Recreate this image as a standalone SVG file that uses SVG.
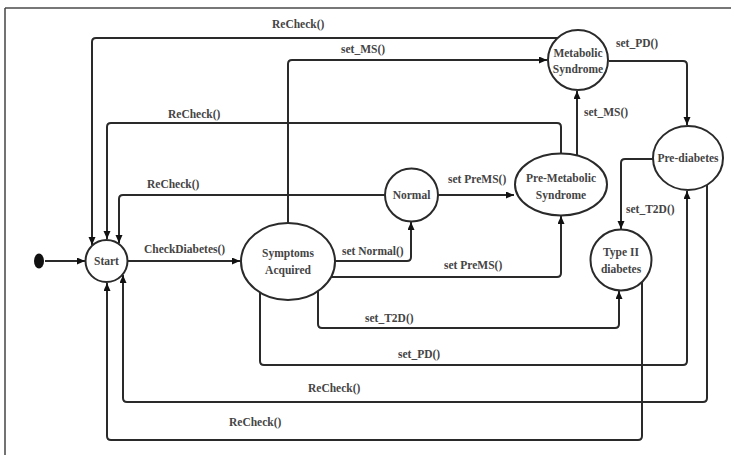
<svg xmlns="http://www.w3.org/2000/svg" width="731" height="455" viewBox="0 0 731 455">
<style>
.node{fill:#fff;stroke:#2a2a2a;stroke-width:2}
.nt{font-family:"Liberation Serif","Times New Roman",serif;font-weight:bold;font-size:11.5px;fill:#444;text-anchor:middle}
.lt{font-family:"Liberation Serif","Times New Roman",serif;font-weight:bold;font-size:11.5px;fill:#444}
.c{fill:none;stroke:#2a2a2a;stroke-width:2;stroke-linejoin:round}
.a{marker-end:url(#ah)}
</style>
<defs>
<marker id="ah" markerUnits="userSpaceOnUse" markerWidth="9" markerHeight="8" refX="8" refY="3.5" orient="auto">
<path d="M0,0 L8,3.5 L0,7 z" fill="#111"/>
</marker>
</defs>
<rect width="731" height="455" fill="#fff"/>
<g id="frame">
<line x1="5" y1="8" x2="731" y2="8" stroke="#777" stroke-width="2"/>
<line x1="5" y1="8" x2="5" y2="455" stroke="#444" stroke-width="1.5"/>
</g>
<g id="connectors">
<line class="c a" x1="45" y1="261" x2="85" y2="261"/>
<line class="c a" x1="128" y1="261" x2="240" y2="261"/>
<path class="c a" d="M558,38 H96 Q92,38 92,42 V245"/>
<path class="c a" d="M288,223 V64 Q288,60 292,60 H547"/>
<path class="c a" d="M561,153 V127 Q561,123 557,123 H111 Q107,123 107,127 V239"/>
<path class="c a" d="M385,195 H123 Q119,195 119,199 V243"/>
<path class="c a" d="M335,261 H407 Q411,261 411,257 V222"/>
<path class="c a" d="M438,195 H514"/>
<path class="c a" d="M331,277 H557 Q561,277 561,273 V216"/>
<path class="c a" d="M577,155 V91"/>
<path class="c a" d="M609,61 H683 Q687,61 687,65 V125"/>
<path class="c a" d="M653,159 H625 Q621,159 621,163 V229"/>
<path class="c a" d="M318,291 V324 Q318,328 322,328 H615 Q619,328 619,324 V291"/>
<path class="c a" d="M260,292 V361 Q260,365 264,365 H683 Q687,365 687,361 V191"/>
<path class="c a" d="M707,185 V398 Q707,402 703,402 H127 Q123,402 123,398 V275"/>
<path class="c a" d="M642,282 V436 Q642,440 638,440 H111 Q107,440 107,436 V283"/>
</g>
<g id="labels">
<text class="lt" x="272" y="28">ReCheck()</text>
<text class="lt" x="341" y="53">set_MS()</text>
<text class="lt" x="168" y="118">ReCheck()</text>
<text class="lt" x="147" y="188">ReCheck()</text>
<text class="lt" x="144" y="253">CheckDiabetes()</text>
<text class="lt" x="342" y="255">set Normal()</text>
<text class="lt" x="448" y="183">set PreMS()</text>
<text class="lt" x="444" y="269">set PreMS()</text>
<text class="lt" x="584" y="116">set_MS()</text>
<text class="lt" x="616" y="47">set_PD()</text>
<text class="lt" x="626" y="213">set_T2D()</text>
<text class="lt" x="365" y="322">set_T2D()</text>
<text class="lt" x="398" y="358">set_PD()</text>
<text class="lt" x="308" y="392">ReCheck()</text>
<text class="lt" x="229" y="426">ReCheck()</text>
</g>
<g id="initial"><ellipse cx="39" cy="261" rx="5" ry="7.5" fill="#111"/></g>
<g id="start"><circle class="node" cx="106.5" cy="261" r="21"/><text class="nt" x="106.5" y="265">Start</text></g>
<g id="symptoms"><ellipse class="node" cx="288" cy="261.5" rx="47" ry="38.5"/><text class="nt" x="288" y="257">Symptoms</text><text class="nt" x="288" y="274">Acquired</text></g>
<g id="normal"><circle class="node" cx="411.5" cy="195" r="26.5"/><text class="nt" x="411.5" y="199">Normal</text></g>
<g id="premetabolic"><ellipse class="node" cx="561" cy="184.5" rx="46" ry="31"/><text class="nt" x="561" y="182">Pre-Metabolic</text><text class="nt" x="561" y="199">Syndrome</text></g>
<g id="metabolic"><circle class="node" cx="578" cy="60" r="30"/><text class="nt" x="578" y="57">Metabolic</text><text class="nt" x="578" y="73">Syndrome</text></g>
<g id="prediabetes"><ellipse class="node" cx="688" cy="158" rx="35" ry="32"/><text class="nt" x="688" y="162">Pre-diabetes</text></g>
<g id="type2"><circle class="node" cx="621" cy="260" r="30.5"/><text class="nt" x="621" y="256">Type II</text><text class="nt" x="621" y="273">diabetes</text></g>
</svg>
